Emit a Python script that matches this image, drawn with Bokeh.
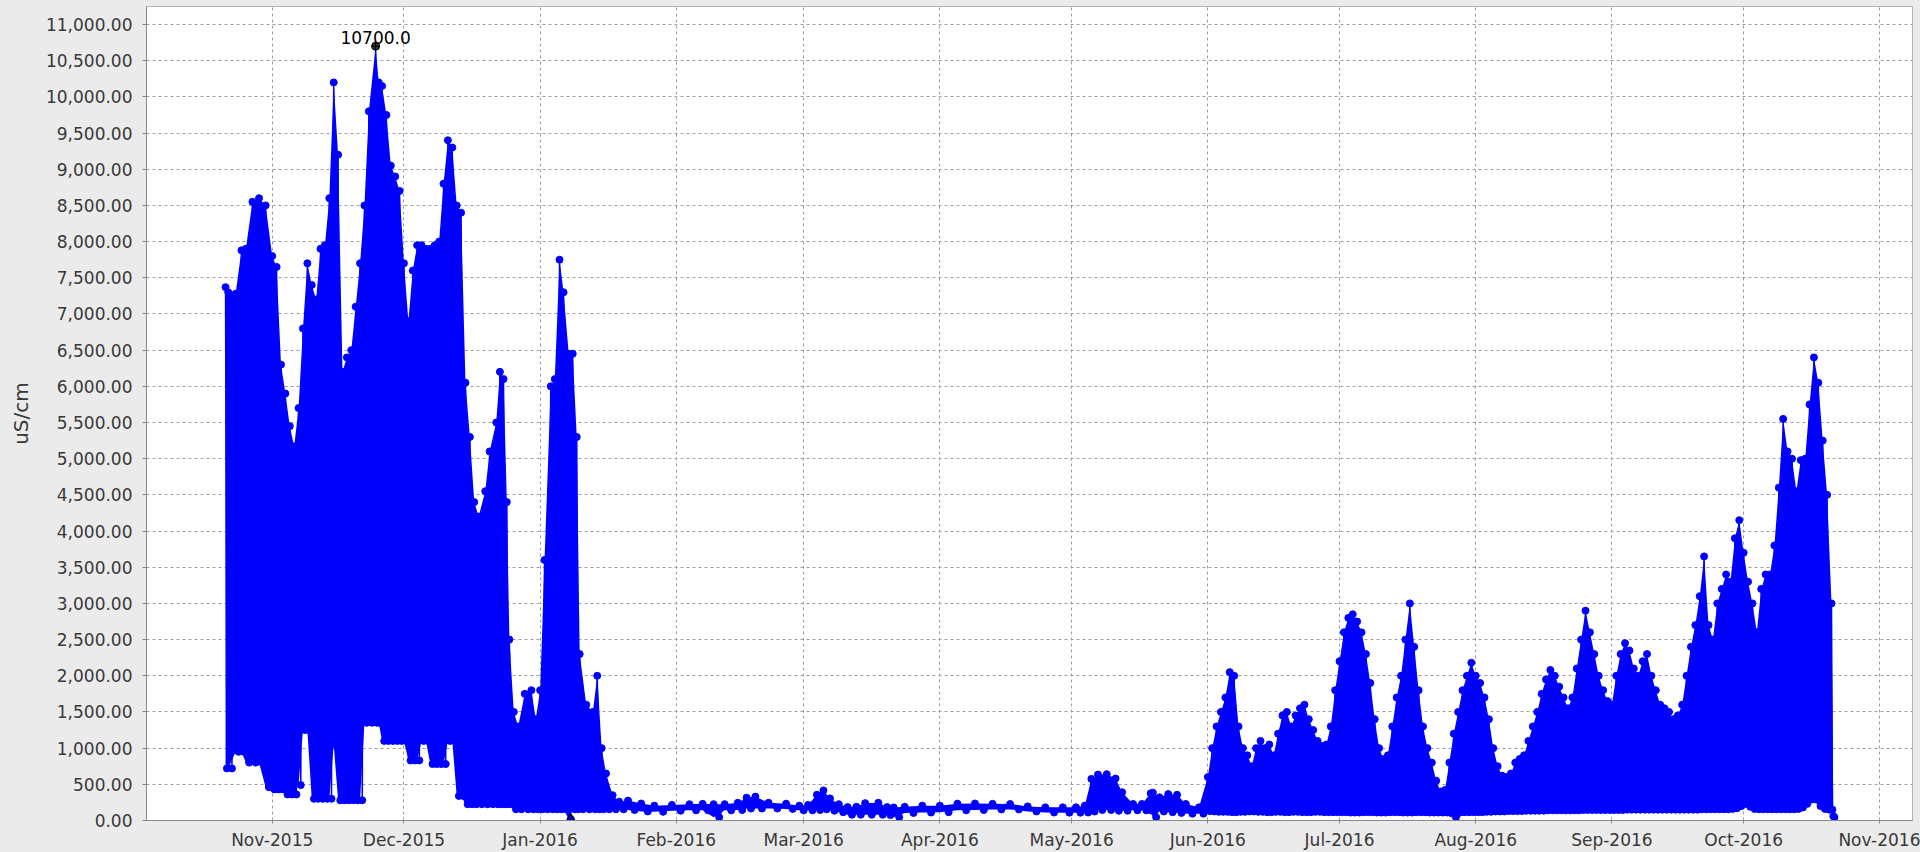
import pandas as pd
from bokeh.plotting import figure
from bokeh.models import Range1d, FixedTicker, NumeralTickFormatter, DatetimeTickFormatter
from bokeh.core.properties import value
from bokeh.embed import file_html
from bokeh.resources import INLINE

# ---------------- data (daily / multi-day high & low of the readings) -------------
# Oct 2015 - Jan 2016
r1_dates = [
    "2015-10-21 09:00", "2015-10-22 00:00", "2015-10-23 16:00", "2015-10-25 00:00", "2015-10-26 00:00",
    "2015-10-27 12:00", "2015-10-29 00:00", "2015-10-30 12:00", "2015-11-01 00:00", "2015-11-02 00:00",
    "2015-11-03", "2015-11-04", "2015-11-05", "2015-11-06", "2015-11-07",
    "2015-11-08", "2015-11-09", "2015-11-10", "2015-11-11", "2015-11-12",
    "2015-11-13", "2015-11-14", "2015-11-15", "2015-11-16", "2015-11-17",
    "2015-11-18", "2015-11-19", "2015-11-20", "2015-11-21", "2015-11-22",
    "2015-11-23", "2015-11-24 13:00", "2015-11-25 06:00", "2015-11-26", "2015-11-27",
    "2015-11-28", "2015-11-29", "2015-11-30", "2015-12-01", "2015-12-02",
    "2015-12-03", "2015-12-04", "2015-12-05", "2015-12-06", "2015-12-07",
    "2015-12-08", "2015-12-09", "2015-12-10", "2015-12-11", "2015-12-12",
    "2015-12-13", "2015-12-14", "2015-12-15", "2015-12-16", "2015-12-17",
    "2015-12-18", "2015-12-19 12:00", "2015-12-20 12:00", "2015-12-22 00:00", "2015-12-22 20:00",
    "2015-12-23 16:00", "2015-12-24 10:00", "2015-12-25", "2015-12-26", "2015-12-27",
    "2015-12-28 12:00", "2015-12-30", "2015-12-31", "2016-01-01", "2016-01-02",
    "2016-01-03 10:00", "2016-01-04 08:00", "2016-01-05 10:00", "2016-01-06 08:00", "2016-01-07 12:00",
    "2016-01-08 10:00", "2016-01-09 08:00", "2016-01-10", "2016-01-11 12:00", "2016-01-13",
    "2016-01-14", "2016-01-15", "2016-01-16", "2016-01-17 12:00", "2016-01-19",
]
r1_hi = [7370, 7300, 7280, 7880, 7900, 8550, 8600, 8500, 7800, 7650,
         6300, 5900, 5450, 5170, 5700, 6800, 7700, 7400, 7200, 7900,
         7950, 8600, 10200, 9200, 6200, 6400, 6500, 7100, 7700, 8500,
         9800, 10700, 10200, 10150, 9750, 9050, 8900, 8700, 7700, 6900,
         7600, 7950, 7950, 7900, 7900, 7950, 8000, 8800, 9400, 9300,
         8500, 8400, 6050, 5300, 4400, 4200, 4550, 5100, 5500, 6200,
         6100, 4400, 2500, 1500, 1300, 1750, 1800, 1400, 1800, 3600,
         6000, 6100, 7750, 7300, 6450, 6450, 5300, 2300, 1600, 1500,
         2000, 1000, 650, 350, 260]
r1_lo = [720, 720, 950, 950, 800, 800, 800, 460, 430, 430,
         430, 360, 360, 360, 490, 1250, 1250, 300, 300, 300,
         300, 300, 1050, 280, 280, 280, 280, 280, 280, 1350,
         1350, 1350, 1350, 1100, 1100, 1100, 1100, 1100, 1100, 830,
         830, 830, 1100, 1100, 780, 780, 780, 780, 1100, 1100,
         340, 340, 225, 225, 225, 225, 225, 225, 225, 225,
         225, 225, 225, 155, 155, 155, 155, 155, 155, 155,
         155, 155, 155, 155, 20, 155, 155, 155, 155, 155,
         155, 155, 155, 155, 155]

# late Jan 2016 - May 2016
r2_dates = [
    "2016-01-21", "2016-01-24", "2016-01-27", "2016-01-31", "2016-02-04",
    "2016-02-07", "2016-02-09 12:00", "2016-02-12", "2016-02-15", "2016-02-17",
    "2016-02-19", "2016-02-22", "2016-02-26", "2016-02-29", "2016-03-02",
    "2016-03-04", "2016-03-05 12:00", "2016-03-07", "2016-03-09", "2016-03-11",
    "2016-03-13", "2016-03-15", "2016-03-18", "2016-03-20", "2016-03-21 12:00",
    "2016-03-24", "2016-03-28", "2016-04-01", "2016-04-05", "2016-04-09",
    "2016-04-13", "2016-04-17", "2016-04-21", "2016-04-25", "2016-04-29",
    "2016-05-02", "2016-05-04", "2016-05-05 12:00", "2016-05-07", "2016-05-09",
    "2016-05-11", "2016-05-12 12:00", "2016-05-15", "2016-05-17", "2016-05-19",
    "2016-05-19 12:00", "2016-05-21", "2016-05-23", "2016-05-25", "2016-05-27",
    "2016-05-30",
]
r2_hi = [275, 235, 205, 215, 225, 230, 225, 225, 245, 315,
         330, 245, 233, 205, 215, 355, 415, 305, 225, 185,
         190, 240, 245, 185, 180, 190, 205, 205, 233, 235,
         230, 228, 195, 182, 182, 182, 205, 575, 635, 640,
         580, 390, 228, 228, 375, 385, 320, 365, 355, 228,
         182]
r2_lo = [145, 125, 120, 135, 140, 140, 45, 140, 145, 165,
         165, 165, 160, 140, 140, 145, 155, 135, 115, 80,
         80, 80, 80, 75, 45, 105, 110, 115, 140, 145,
         153, 153, 125, 110, 108, 108, 110, 125, 145, 145,
         135, 135, 140, 140, 135, 45, 125, 115, 105, 95,
         95]

# Jun - Oct 2016, one value per day
jun_hi = [600, 1000, 1300, 1500, 1700, 2050, 2000, 1300, 1000, 900,
          750, 1000, 1100, 1000, 1050, 900, 1200, 1450, 1500, 1300,
          1450, 1550, 1600, 1400, 1250, 1100, 1030, 1050, 1300, 1800]
jul_hi = [2200, 2600, 2800, 2850, 2750, 2600, 2300, 1900, 1400, 1000,
          850, 900, 1300, 1700, 2000, 2500, 3000, 2400, 1800, 1300,
          1000, 800, 550, 400, 420, 800, 1200, 1500, 1800, 2000, 2180]
aug_hi = [2000, 1900, 1700, 1400, 1000, 750, 620, 600, 650, 800,
          850, 900, 1100, 1300, 1500, 1750, 1950, 2080, 2000, 1850,
          1700, 1550, 1700, 2100, 2500, 2900, 2600, 2300, 2000, 1800, 1650]
sep_hi = [1600, 2000, 2300, 2450, 2350, 2100, 2000, 2200, 2300, 2000,
          1800, 1600, 1550, 1500, 1400, 1450, 1600, 2000, 2400, 2700,
          3100, 3650, 2700, 2500, 3000, 3200, 3400, 3300, 3900, 4150]
oct_hi = [3700, 3300, 3000, 2600, 3200, 3400, 3400, 3800, 4600, 5550,
          5100, 5000, 4550, 4980, 5000, 5750, 6400, 6050, 5250, 4500, 3000]

jun_lo = [130, 125, 120, 120, 120, 115, 115, 120, 120, 125,
          125, 120, 120, 115, 115, 120, 120, 115, 115, 120,
          120, 115, 115, 115, 120, 120, 115, 115, 115, 115]
jul_lo = [115, 115, 110, 110, 110, 115, 115, 115, 110, 110,
          110, 115, 115, 115, 110, 110, 110, 115, 115, 115,
          110, 110, 110, 110, 110, 100, 45, 110, 115, 115, 115]
aug_lo = [115, 115, 120, 120, 125, 125, 125, 130, 130, 130,
          130, 135, 135, 135, 135, 135, 140, 140, 140, 140,
          140, 140, 140, 140, 145, 145, 145, 145, 145, 145, 145]
sep_lo = [145, 145, 145, 150, 150, 150, 150, 150, 150, 150,
          150, 150, 150, 150, 150, 150, 150, 150, 150, 150,
          155, 155, 155, 155, 155, 155, 155, 160, 170, 200]
oct_lo = [230, 190, 160, 155, 155, 155, 155, 155, 155, 155,
          155, 155, 160, 180, 230, 290, 290, 200, 160, 150, 150]

tail_dates = ["2016-10-21 10:00"]
tail_hi = [60]
tail_lo = [45]

month_ticks = ["2015-11-01", "2015-12-01", "2016-01-01", "2016-02-01", "2016-03-01", "2016-04-01",
               "2016-05-01", "2016-06-01", "2016-07-01", "2016-08-01", "2016-09-01", "2016-10-01",
               "2016-11-01"]
y_ticks = [0, 500, 1000, 1500, 2000, 2500, 3000, 3500, 4000, 4500, 5000, 5500,
           6000, 6500, 7000, 7500, 8000, 8500, 9000, 9500, 10000, 10500, 11000]
y_label = "uS/cm"
peak_label = "10700.0"


def ms(s):
    return pd.Timestamp(s).value / 1e6


r3_hi = jun_hi + jul_hi + aug_hi + sep_hi + oct_hi
r3_lo = jun_lo + jul_lo + aug_lo + sep_lo + oct_lo
r3_dates = [ms(d) for d in pd.date_range("2016-06-01", periods=len(r3_hi), freq="D")]

dates = [ms(d) for d in r1_dates] + [ms(d) for d in r2_dates] + r3_dates + [ms(d) for d in tail_dates]
hi = r1_hi + r2_hi + r3_hi + tail_hi
lo = r1_lo + r2_lo + r3_lo + tail_lo

# readings alternate between the high and the low of each period
xs, ys = [], []
for i, t in enumerate(dates):
    nxt = dates[i + 1] if i + 1 < len(dates) else t + 12 * 3600e3
    xs += [t, (t + nxt) / 2]
    ys += [hi[i], lo[i]]

k_max = max(range(len(ys)), key=lambda k: ys[k])
k_min = min(range(len(ys)), key=lambda k: ys[k])

# ---------------- figure -------------
FONT = "DejaVu Sans"
p = figure(width=1920, height=852, x_axis_type="datetime",
           x_range=Range1d(ms("2015-10-03 09:07"), ms("2016-11-08 10:34")),
           y_range=Range1d(0, 11249),
           output_backend="svg", toolbar_location=None,
           min_border_left=146, min_border_right=8, min_border_top=6, min_border_bottom=0,
           background_fill_color="white", border_fill_color="#EBEBEB",
           outline_line_color="#B4B4B4", outline_line_width=1)

xt = FixedTicker(ticks=[ms(m) for m in month_ticks])
yt = FixedTicker(ticks=y_ticks)
p.xaxis.ticker = xt
p.yaxis.ticker = yt
p.xgrid.ticker = xt
p.ygrid.ticker = yt
fmt = "%b-%Y"
p.xaxis.formatter = DatetimeTickFormatter(microseconds=fmt, milliseconds=fmt, seconds=fmt, minsec=fmt,
                                          minutes=fmt, hourmin=fmt, hours=fmt, days=fmt, months=fmt,
                                          years=fmt)
p.yaxis.formatter = NumeralTickFormatter(format="0,0.00")

for ax in (p.xaxis[0], p.yaxis[0]):
    ax.major_label_text_font = FONT
    ax.major_label_text_font_size = "17px"
    ax.major_label_text_color = "#383838"
    ax.axis_line_color = "#888888"
    ax.axis_line_width = 1
    ax.major_tick_line_color = "#888888"
    ax.major_tick_in = 0
    ax.minor_tick_in = 0
    ax.minor_tick_out = 0

p.xaxis.major_tick_out = 3
p.xaxis.major_label_standoff = 6
p.yaxis.major_tick_out = 4
p.yaxis.major_label_standoff = 10
p.yaxis.axis_label = y_label
p.yaxis.axis_label_text_font = FONT
p.yaxis.axis_label_text_font_size = "20px"
p.yaxis.axis_label_text_font_style = "normal"
p.yaxis.axis_label_text_color = "#383838"
p.yaxis.axis_label_standoff = 10

for g in (p.xgrid[0], p.ygrid[0]):
    g.grid_line_color = "#9C9C9C"
    g.grid_line_dash = "3 3"
    g.grid_line_width = 1

BLUE = "#0000FF"
p.varea(x=dates, y1=lo, y2=hi, fill_color=BLUE, fill_alpha=1.0)
p.line(xs, ys, line_color=BLUE, line_width=1.5)
p.scatter(xs, ys, size=7, marker="circle", fill_color=BLUE, line_color=BLUE)

# max / min markers and max label
p.scatter([xs[k_max]], [ys[k_max]], size=8, marker="circle_cross", fill_color="#333333",
          line_color="black", line_width=1)
p.scatter([xs[k_min]], [ys[k_min]], size=9, marker="triangle", fill_color=None,
          line_color="black", line_width=1.5)
p.text(x=[xs[k_max]], y=[ys[k_max]], text=[peak_label], text_font=value(FONT),
       text_font_size="17px", text_align="center", text_baseline="alphabetic",
       y_offset=-9, text_color="black")

html = file_html(p, INLINE, title="uS/cm")
html = html.replace("<head>", "<head>\n<style>html, body { background-color: #EBEBEB; }</style>", 1)
open("out.html", "w").write(html)
